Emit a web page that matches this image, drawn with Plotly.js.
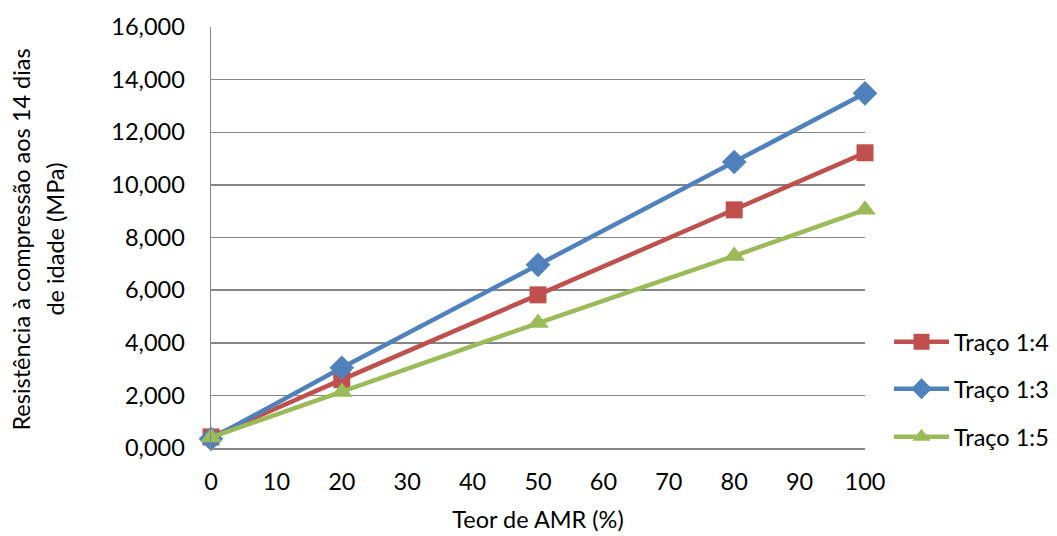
<!DOCTYPE html>
<html><head><meta charset="utf-8">
<script src="https://cdn.plot.ly/plotly-3.0.1.min.js"></script>
<style>html,body{margin:0;padding:0;background:#fff}#c{width:1057px;height:536px}</style>
</head><body><div id="c"></div>
<script>
const teorAMR = [0, 20, 50, 80, 100];
const traco14 = [0.42, 2.60, 5.82, 9.05, 11.22];
const traco13 = [0.35, 3.05, 6.96, 10.87, 13.48];
const traco15 = [0.40, 2.13, 4.75, 7.30, 9.05];
const seriesNames = ['Traço 1:4', 'Traço 1:3', 'Traço 1:5'];
const yTicks = [0, 2, 4, 6, 8, 10, 12, 14, 16];
const xTicks = [0, 10, 20, 30, 40, 50, 60, 70, 80, 90, 100];
const xTitle = 'Teor de AMR (%)';
const yTitleLines = ['Resistência à compressão aos 14 dias', 'de idade (MPa)'];

const FONT = 'Lato, "Open Sans", sans-serif';
const FS = 23.5;
function tr(y, name, color, symbol, size, lg){
  return {x: teorAMR, y: y, name: name, type: 'scatter', mode: 'lines+markers',
    line: {color: color, width: 4.5}, marker: {color: color, symbol: symbol, size: size},
    legend: lg, cliponaxis: false};
}
const data = [
  tr(traco14, seriesNames[0], '#C0504D', 'square', 17, 'legend'),
  tr(traco13, seriesNames[1], '#4F81BD', 'diamond', 19, 'legend2'),
  tr(traco15, seriesNames[2], '#9BBB59', 'triangle-up', 19, 'legend3')
];
function leg(py){
  return {xref: 'container', yref: 'container', x: 889/1057, xanchor: 'left',
    y: 1 - py/536, yanchor: 'middle', font: {size: FS},
    itemwidth: 55, bgcolor: 'rgba(0,0,0,0)', borderwidth: 0};
}
function ytitle(text, px){
  return {text: text, textangle: -90, xref: 'paper', yref: 'paper',
    x: (px - 211) / 654, y: 0.495, xanchor: 'center', yanchor: 'middle',
    showarrow: false, font: {size: FS}};
}
const layout = {
  width: 1057, height: 536,
  margin: {l: 211, r: 192, t: 27, b: 88},
  paper_bgcolor: '#fff', plot_bgcolor: '#fff',
  separators: ',.',
  font: {family: FONT, size: FS, color: '#000'},
  xaxis: {range: [0, 100], tickvals: xTicks, ticktext: xTicks.map(String),
    showgrid: false, zeroline: false, showline: true, linecolor: '#868686', linewidth: 1.5,
    ticks: '', ticklabelstandoff: 12, tickfont: {size: FS},
    title: {text: xTitle, font: {size: FS}, standoff: 18}},
  yaxis: {range: [0, 16], tickvals: yTicks, tickformat: '.3f',
    showgrid: true, gridcolor: '#868686', gridwidth: 1.5, zeroline: false,
    showline: true, linecolor: '#868686', linewidth: 1.5,
    ticks: '', ticklabelstandoff: 20, tickfont: {size: FS}},
  annotations: [ytitle(yTitleLines[0], 21), ytitle(yTitleLines[1], 55)],
  showlegend: true,
  legend: leg(342),
  legend2: leg(389),
  legend3: leg(437)
};
Plotly.newPlot('c', data, layout, {displayModeBar: false, staticPlot: true});
</script></body></html>
